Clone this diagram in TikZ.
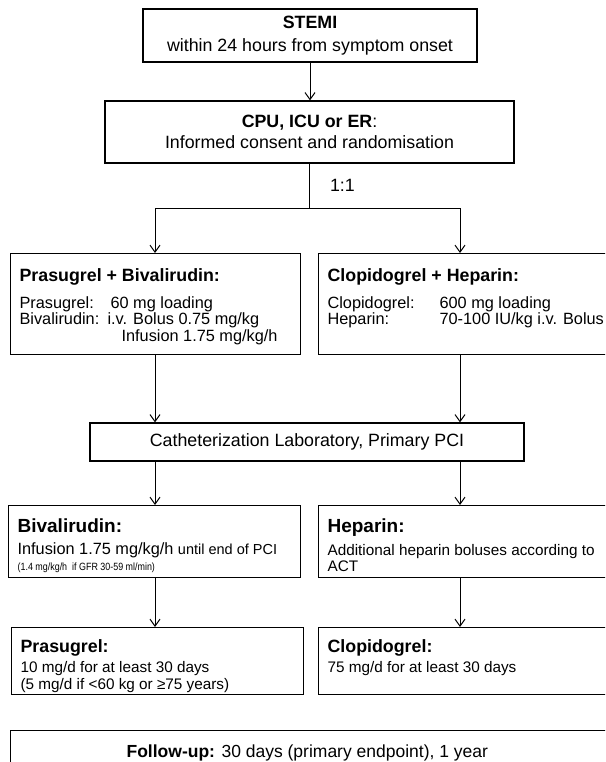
\documentclass[tikz,border=0pt]{standalone}
\usepackage{fontspec}
\setmainfont{Liberation Sans}
\usetikzlibrary{calc,arrows.meta}
\newdimen\pxu \pxu=1pt
\newcommand\fhead{\fontsize{17.8}{20}\selectfont}
\newcommand\ftitle{\fontsize{17.8}{18}\bfseries\selectfont}
\newcommand\fpanel{\fontsize{16.3}{16.5}\selectfont}
\newcommand\fsmall{\fontsize{15.3}{17}\selectfont}
\newcommand\ftiny{\fontsize{10.5}{11}\selectfont\addfontfeature{FakeStretch=0.85}}
% a panel with a fixed size, text from the top left
\newcommand\panel[3]{\parbox[c][#2\pxu][t]{#1\pxu}{#3}}

\tikzset{
  box/.style={draw, line width=1.2pt, inner sep=0pt},
  lbox/.style={box, anchor=north west, inner xsep=9pt, inner ysep=0pt, align=left},
  link/.style={line width=1pt},
  arr/.style={link, -{Straight Barb[length=7pt,width=10pt]}},
}

\begin{document}
\begin{tikzpicture}[x=1pt,y=-1pt]
\useasboundingbox (0,0) rectangle (605,762);
\clip (0,0) rectangle (605,762);

% top boxes
\node[box, minimum width=334, minimum height=53, align=center, font=\fhead] (stemi) at (310,35.5)
  {\textbf{STEMI}\\[3pt]within 24 hours from symptom onset};
\node[box, minimum width=409, minimum height=62, align=center, font=\fhead] (cpu) at (309.5,132)
  {\textbf{CPU, ICU or ER}:\\[1pt]Informed consent and randomisation};

\coordinate (split) at (309.5,208);
\coordinate (colL) at (155,0);
\coordinate (colR) at (460,0);
\node[anchor=west, font=\fhead] (ratio) at ($(cpu.south)!0.5!(split)+(17,0)$) {1:1};

% first treatment
\node[lbox, font=\fpanel] (pb) at (10,253) {\panel{272}{101}{\vspace*{15pt}%
  {\ftitle Prasugrel + Bivalirudin:}\par\vspace{10pt}
  \makebox[91pt][l]{Prasugrel:}60 mg loading\par
  \makebox[88pt][l]{Bivalirudin:}i.v. Bolus 0.75 mg/kg\par
  \hspace*{102pt}Infusion 1.75 mg/kg/h}};
\node[lbox, font=\fpanel] (cg) at (318,253) {\panel{300}{101}{\vspace*{15pt}%
  {\ftitle Clopidogrel + Heparin:}\par\vspace{10pt}
  \makebox[112pt][l]{Clopidogrel:}600 mg loading\par
  \makebox[112pt][l]{Heparin:}70-100 IU/kg i.v. Bolus}};

% cath lab
\node[box, minimum width=434, minimum height=38, font=\fhead] (cath) at (307,442)
  {Catheterization Laboratory, Primary PCI};

% during PCI
\node[lbox, font=\fpanel] (biv) at (8,505) {\panel{274}{72}{\vspace*{13pt}%
  {\fontsize{19}{19}\bfseries\selectfont Bivalirudin:}\par\vspace{6pt}
  Infusion 1.75 mg/kg/h {\fontsize{14.5}{16}\selectfont until end of PCI}\par\vspace{-1pt}
  {\ftiny (1.4 mg/kg/h\ \ if GFR 30-59 ml/min)}}};
\node[lbox, font=\fpanel] (hep) at (318,505) {\panel{300}{72}{\vspace*{13pt}%
  {\fontsize{19}{19}\bfseries\selectfont Heparin:}\par\vspace{6pt}
  {\fsmall Additional heparin boluses according to\par ACT}}};

% maintenance
\node[lbox, font=\fpanel] (pra) at (11,627) {\panel{274}{67}{\vspace*{12pt}%
  {\ftitle Prasugrel:}\par\vspace{3pt}
  {\fsmall 10 mg/d for at least 30 days\par (5 mg/d if <60 kg or ≥75 years)}}};
\node[lbox, font=\fpanel] (clo) at (318,627) {\panel{300}{67}{\vspace*{12pt}%
  {\ftitle Clopidogrel:}\par\vspace{3pt}
  {\fsmall 75 mg/d for at least 30 days}}};

% follow-up
\node[lbox, font=\fontsize{17.5}{20}\selectfont] (fu) at (10,730) {\panel{600}{50}{\vspace*{14pt}%
  \hspace*{107pt}\textbf{Follow-up:} 30 days\ (primary endpoint), 1 year}};

% connectors
\draw[arr] (stemi.south) -- (stemi.south |- cpu.north);
\draw[link] (cpu.south) -- (split);
\draw[arr] (split) -| (colL |- pb.north);
\draw[arr] (split) -| (colR |- cg.north);
\draw[arr] (colL |- pb.south) -- (colL |- cath.north);
\draw[arr] (colR |- cg.south) -- (colR |- cath.north);
\draw[arr] (colL |- cath.south) -- (colL |- biv.north);
\draw[arr] (colR |- cath.south) -- (colR |- hep.north);
\draw[arr] (colL |- biv.south) -- (colL |- pra.north);
\draw[arr] (colR |- hep.south) -- (colR |- clo.north);
\end{tikzpicture}
\end{document}
